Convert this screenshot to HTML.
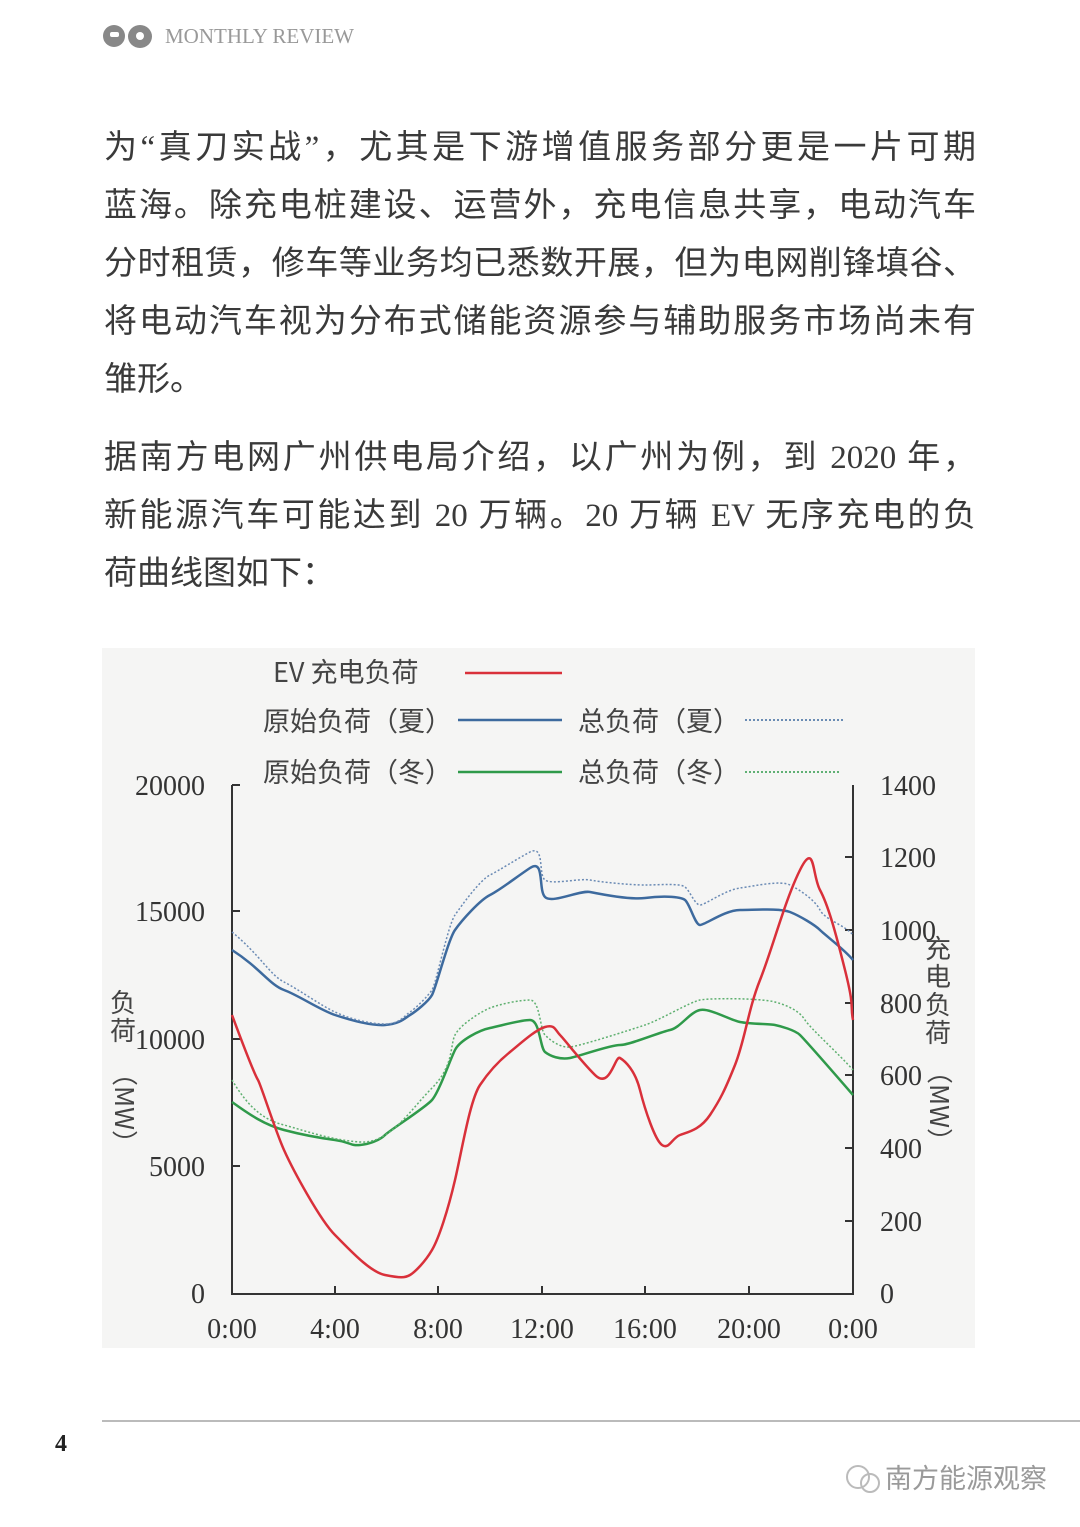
<!DOCTYPE html>
<html><head><meta charset="utf-8">
<style>
body{margin:0;background:#fff;width:1080px;height:1527px;position:relative;overflow:hidden;font-family:"Liberation Serif","Noto Sans CJK SC",sans-serif;}
.l{position:absolute;left:104px;width:872px;font-size:33px;color:#3a3a3a;text-align:justify;text-align-last:justify;white-space:nowrap;line-height:40px;font-family:"Liberation Serif","Noto Sans CJK SC",sans-serif;}
.l.n{text-align-last:left;}
</style></head><body>
<div style="position:absolute;left:103px;top:25px;width:22px;height:22px;border-radius:50%;background:#888"></div>
<div style="position:absolute;left:110px;top:32px;width:9px;height:5px;background:#fff;border-radius:2px"></div>
<div style="position:absolute;left:128px;top:25px;width:24px;height:23px;border-radius:50%;background:#888"></div>
<div style="position:absolute;left:136px;top:32px;width:8px;height:8px;border-radius:50%;background:#fff"></div>
<div style="position:absolute;left:165px;top:24px;font-size:21px;color:#999;font-family:'Liberation Serif',serif">MONTHLY REVIEW</div>

<div class="l" style="top:128px">为“真刀实战”，尤其是下游增值服务部分更是一片可期</div>
<div class="l" style="top:186px">蓝海。除充电桩建设、运营外，充电信息共享，电动汽车</div>
<div class="l" style="top:244px">分时租赁，修车等业务均已悉数开展，但为电网削锋填谷、</div>
<div class="l" style="top:302px">将电动汽车视为分布式储能资源参与辅助服务市场尚未有</div>
<div class="l n" style="top:360px">雏形。</div>
<div class="l" style="top:438px">据南方电网广州供电局介绍，以广州为例，到 2020 年，</div>
<div class="l" style="top:496px">新能源汽车可能达到 20 万辆。20 万辆 EV 无序充电的负</div>
<div class="l n" style="top:554px">荷曲线图如下：</div>

<svg style="position:absolute;left:0;top:0" width="1080" height="1527">
<rect x="102" y="648" width="873" height="700" fill="#f5f5f4"/>
<g font-family="'Noto Sans CJK SC',sans-serif" font-size="27" fill="#444">
<text x="273" y="682">EV 充电负荷</text>
<text x="263" y="731">原始负荷（夏）</text>
<text x="578" y="731">总负荷（夏）</text>
<text x="263" y="782">原始负荷（冬）</text>
<text x="578" y="782">总负荷（冬）</text>
</g>
<line x1="465" y1="673" x2="562" y2="673" stroke="#d9303a" stroke-width="2.5"/>
<line x1="458" y1="720" x2="562" y2="720" stroke="#3d6a9e" stroke-width="2.5"/>
<line x1="745" y1="720" x2="845" y2="720" stroke="#3d6a9e" stroke-width="1.5" stroke-dasharray="2,2"/>
<line x1="458" y1="772" x2="562" y2="772" stroke="#2f9a4a" stroke-width="2.5"/>
<line x1="745" y1="772" x2="840" y2="772" stroke="#2f9a4a" stroke-width="1.5" stroke-dasharray="2,2"/>
<g stroke="#333" stroke-width="2" fill="none">
<path d="M232 785V1294H853V785"/>
<path d="M232 785h8M232 911h8M232 1039h8M232 1166h8"/>
<path d="M853 857h-8M853 930h-8M853 1003h-8M853 1075h-8M853 1148h-8M853 1221h-8"/>
<path d="M335 1294v-8M438 1294v-8M542 1294v-8M645 1294v-8M749 1294v-8"/>
</g>
<g font-family="'Liberation Serif',serif" font-size="28" fill="#333">
<g text-anchor="end"><text x="205" y="795">20000</text><text x="205" y="921">15000</text><text x="205" y="1049">10000</text><text x="205" y="1176">5000</text><text x="205" y="1303">0</text></g>
<text x="880" y="795">1400</text><text x="880" y="867">1200</text><text x="880" y="940">1000</text><text x="880" y="1013">800</text><text x="880" y="1085">600</text><text x="880" y="1158">400</text><text x="880" y="1231">200</text><text x="880" y="1303">0</text>
<g text-anchor="middle"><text x="232" y="1338">0:00</text><text x="335" y="1338">4:00</text><text x="438" y="1338">8:00</text><text x="542" y="1338">12:00</text><text x="645" y="1338">16:00</text><text x="749" y="1338">20:00</text><text x="853" y="1338">0:00</text></g>
</g>
<g font-family="'Noto Sans CJK SC',sans-serif" font-size="26" fill="#444">
<text x="110" y="1012">负</text><text x="110" y="1040">荷</text>
<text transform="translate(115 1060) rotate(90)">（MW）</text>
<text x="925" y="958">充</text><text x="925" y="986">电</text><text x="925" y="1014">负</text><text x="925" y="1042">荷</text>
<text transform="translate(930 1058) rotate(90)">（MW）</text>
</g>
<g fill="none" stroke-linejoin="round">
<path stroke="#3d6a9e" stroke-width="2.5" d="M232 950 C260 968 270 985 284 990 S320 1010 335 1015 S370 1026 385 1025 S405 1018 410 1015 S428 1002 432 995 S448 940 455 930 S480 900 490 895 S515 878 530 868 S538 890 545 897 S580 890 590 892 S630 900 645 898 S680 896 685 900 S695 925 700 925 S725 910 740 910 S780 908 790 912 S815 925 820 930 S845 950 853 960"/>
<path stroke="#6b8bb5" stroke-width="1.5" stroke-dasharray="2,2" d="M232 932 C260 955 270 975 284 982 S320 1005 335 1012 S370 1024 385 1024 S405 1015 410 1012 S428 996 432 990 S448 925 455 915 S480 880 490 875 S515 860 530 852 S538 875 545 880 S580 878 590 880 S630 885 645 885 S680 883 685 887 S695 905 700 905 S725 890 740 888 S780 880 790 885 S815 900 820 910 S845 925 853 935"/>
<path stroke="#2f9a4a" stroke-width="2.5" d="M232 1102 C250 1115 265 1125 284 1130 S320 1138 335 1140 S350 1146 360 1145 S380 1140 385 1135 S425 1108 432 1100 S450 1060 455 1050 S480 1030 490 1028 S520 1020 530 1020 S540 1048 545 1052 S560 1060 570 1058 S610 1045 620 1045 S660 1032 670 1030 S690 1012 700 1010 S730 1020 740 1022 S770 1024 775 1025 S795 1030 800 1035 S840 1080 853 1095"/>
<path stroke="#5fb070" stroke-width="1.5" stroke-dasharray="2,2" d="M232 1080 C250 1110 265 1120 284 1125 S330 1140 360 1142 S410 1110 432 1088 S450 1045 455 1035 S480 1012 490 1008 S520 1000 530 1000 S540 1030 545 1035 S560 1048 570 1047 S630 1030 645 1025 S690 1002 700 1000 S760 998 775 1002 S800 1012 805 1020 S840 1055 853 1070"/>
<path stroke="#d9303a" stroke-width="2.5" d="M232 1015 C245 1050 255 1075 258 1080 S275 1130 284 1150 S320 1220 335 1235 S370 1272 385 1275 S405 1278 410 1275 S425 1262 432 1250 S448 1210 455 1180 S470 1100 480 1085 S500 1060 510 1052 S535 1030 545 1027 S555 1030 560 1035 S580 1060 595 1075 S615 1055 620 1058 S635 1070 640 1090 S655 1140 662 1145 S672 1138 680 1135 S700 1130 710 1115 S725 1090 735 1065 S748 1010 760 980 S785 900 800 870 S812 875 820 890 S835 930 845 970 S850 1005 853 1020"/>
</g>
<line x1="102" y1="1421" x2="1080" y2="1421" stroke="#bbb" stroke-width="2"/>
<text x="55" y="1451" font-family="'Liberation Serif',serif" font-weight="bold" font-size="24" fill="#222">4</text>
<text x="885" y="1488" font-family="'Noto Sans CJK SC',sans-serif" font-size="27" fill="#9a9a9a">南方能源观察</text>
<circle cx="858" cy="1477" r="11" fill="none" stroke="#bbb" stroke-width="2"/>
<circle cx="870" cy="1483" r="9" fill="none" stroke="#bbb" stroke-width="2"/>
</svg>
</body></html>
